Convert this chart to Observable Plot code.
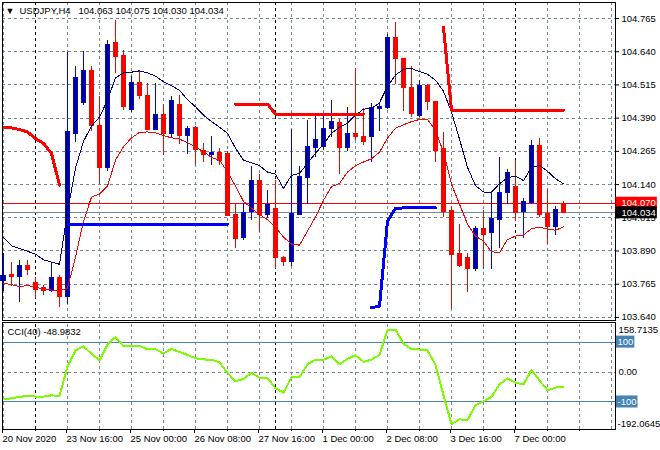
<!DOCTYPE html>
<html>
<head>
<meta charset="utf-8">
<script src="https://cdn.jsdelivr.net/npm/d3@7"></script>
<script src="https://cdn.jsdelivr.net/npm/@observablehq/plot@0.6"></script>
<style>
html,body{margin:0;padding:0;background:#fff;}
#chart{position:relative;width:660px;height:450px;overflow:hidden;background:#fff;}
#chart svg{position:absolute;left:0;}
</style>
</head>
<body>
<div id="chart"></div>
<script>
// ---------- DATA ----------
const symbol = "USDJPY,H4";
const opens = [103.778,103.798,103.793,103.834,103.771,103.751,103.740,103.789,103.715,104.332,
104.448,104.567,104.360,104.204,104.671,104.623,104.422,104.523,104.473,104.345,
104.401,104.332,104.439,104.323,104.353,104.266,104.251,104.257,104.254,104.025,
103.939,104.035,104.153,104.025,104.047,103.864,103.849,104.027,104.165,104.278,
104.282,104.348,104.370,104.276,104.330,104.320,104.320,104.426,104.429,104.692,
104.612,104.505,104.399,104.510,104.451,104.273,104.041,103.878,103.862,103.824,
103.971,103.956,104.006,104.109,104.129,104.035,104.072,104.284,104.031,103.981,
104.063];
const highs = [103.881,103.847,103.855,103.855,103.789,103.761,103.843,103.799,104.636,104.586,
104.642,104.583,104.470,104.683,104.759,104.646,104.545,104.571,104.520,104.520,
104.441,104.470,104.476,104.360,104.360,104.295,104.320,104.276,104.263,104.069,
104.069,104.209,104.179,104.119,104.157,103.868,104.347,104.207,104.382,104.407,
104.407,104.458,104.385,104.430,104.577,104.426,104.445,104.445,104.705,104.749,
104.612,104.583,104.533,104.518,104.451,104.335,104.056,103.991,103.881,103.983,
104.044,104.110,104.241,104.198,104.229,104.088,104.307,104.313,104.121,104.056,
104.075];
const lows = [103.736,103.755,103.695,103.799,103.711,103.724,103.733,103.677,103.690,104.297,
104.438,104.338,104.141,104.188,104.558,104.417,104.411,104.460,104.342,104.342,
104.248,104.313,104.291,104.254,104.213,104.222,104.213,104.213,104.019,103.899,
103.931,104.003,103.958,104.012,103.824,103.833,103.830,104.022,104.065,104.242,
104.267,104.317,104.178,104.263,104.307,104.286,104.222,104.338,104.422,104.517,
104.416,104.392,104.392,104.420,104.222,104.016,103.670,103.827,103.733,103.812,
103.820,103.820,103.899,104.065,104.000,103.937,104.066,104.016,103.914,103.947,
104.030];
const closes = [103.795,103.791,103.833,103.820,103.745,103.740,103.789,103.715,104.336,104.542,
104.567,104.360,104.204,104.667,104.621,104.433,104.523,104.474,104.345,104.401,
104.332,104.454,104.322,104.348,104.269,104.251,104.259,104.229,104.022,103.937,
104.034,104.153,104.025,104.062,103.862,103.849,104.029,104.168,104.282,104.307,
104.348,104.376,104.276,104.330,104.320,104.301,104.429,104.433,104.692,104.614,
104.504,104.407,104.510,104.451,104.267,104.037,103.874,103.833,103.824,103.971,
103.950,104.010,104.110,104.182,104.034,104.076,104.284,104.027,103.981,104.044,
104.034];
// upper (navy) and lower (red) band lines
const upperBand = [103.940,103.910,103.899,103.889,103.878,103.857,103.848,103.840,104.036,104.202,
104.303,104.360,104.394,104.458,104.542,104.560,104.563,104.568,104.560,104.548,
104.527,104.512,104.495,104.459,104.433,104.401,104.377,104.356,104.333,104.277,
104.232,104.222,104.211,104.187,104.179,104.126,104.175,104.182,104.220,104.258,
104.292,104.333,104.356,104.371,104.401,104.424,104.426,104.448,104.510,104.552,
104.574,104.577,104.565,104.555,104.533,104.491,104.412,104.311,104.205,104.136,
104.112,104.112,104.143,104.166,104.172,104.155,104.204,104.213,104.190,104.162,
104.143];
const lowerBand = [103.769,103.763,103.756,103.760,103.755,103.745,103.743,103.740,103.750,103.867,
104.002,104.093,104.104,104.134,104.232,104.283,104.315,104.337,104.338,104.335,
104.324,104.316,104.311,104.298,104.281,104.264,104.242,104.232,104.188,104.134,
104.077,104.051,104.027,104.008,103.980,103.942,103.916,103.912,103.965,104.018,
104.081,104.132,104.144,104.187,104.211,104.225,104.237,104.262,104.315,104.352,
104.365,104.377,104.385,104.386,104.343,104.262,104.141,104.066,103.991,103.946,
103.927,103.887,103.884,103.933,103.946,103.950,103.974,103.980,103.972,103.968,
103.981];
// thick stop lines (null = not drawn)
const redStop = [104.355,104.353,104.347,104.338,104.313,104.295,104.257,104.138,null,null,
null,null,null,null,null,null,null,null,null,null,
null,null,null,null,null,null,null,null,null,104.443,
104.443,104.443,104.443,104.443,104.405,104.405,104.405,104.405,104.405,104.405,
104.405,104.405,104.405,104.405,104.405,104.405,null,null,null,null,
null,null,null,null,null,104.731,104.420,104.420,104.420,104.420,
104.420,104.420,104.420,104.420,104.420,104.420,104.420,104.420,104.420,104.420,
104.420];
const blueStop = [null,null,null,null,null,null,null,null,103.991,103.991,
103.991,103.991,103.991,103.991,103.991,103.991,103.991,103.991,103.991,103.991,
103.991,103.991,103.991,103.991,103.991,103.991,103.991,103.991,103.991,null,
null,null,null,null,null,null,null,null,null,null,
null,null,null,null,null,null,103.677,103.682,104.002,104.051,
104.052,104.052,104.052,104.052,104.052,null,null,null,null,null,
null,null,null,null,null,null,null,null,null,null,
null];
const cciPeriod = 40;
const cci = [-91,-88,-83,-80,-82,-82,-78,-80,18,72,
86,61,39,92,117,86,86,87,76,76,
62,77,67,57,46,42,41,32,-3,-31,
-23,-3,-19,-20,-54,-69,-17,-17,26,41,
41,52,26,44,56,34,41,57,141,142,
94,77,75,72,24,-78,-174,-158,-161,-111,
-98,-83,-41,-21,-36,-41,7,-28,-61,-52,
-48.9832];
const cciLevels = [100, -100];
const cciMax = 158.7135, cciMin = -192.0645;
const ask = 104.070, bid = 104.034;
const priceTicks = [103.640,103.765,103.890,104.015,104.140,104.265,104.390,104.515,104.640,104.765];
const timeLabels = ["20 Nov 2020","23 Nov 16:00","25 Nov 00:00","26 Nov 08:00","27 Nov 16:00","1 Dec 00:00","2 Dec 08:00","3 Dec 16:00","7 Dec 00:00"];
const timeLabelBars = [0,8,16,24,32,40,48,56,64];
const minorTickBars = [4,12,20,28,36,44,52,60,68,72];
const gridBars = [0,4,8,12,16,20,24,28,32,36,40,44,48,52,56,60,64,68,72,76];
const weekSeparators = [4,34,64];

// ---------- CHART ----------
const FONT = "'Liberation Sans', Arial, sans-serif";
const GRID = "#778899";
const xDomain = [-0.125, 76.5];
const idx = opens.map((_, i) => i);
const bars = idx.map(i => ({i, open: opens[i], high: highs[i], low: lows[i], close: closes[i], up: closes[i] >= opens[i]}));
const last = bars[bars.length - 1];
const f3 = d => d.toFixed(3);
const style = {fontFamily: FONT, fontSize: "9.5px", color: "black", background: "white"};
const dash = {stroke: GRID, strokeOpacity: 1, strokeDasharray: "3,3", shapeRendering: "crispEdges"};

const main = Plot.plot({
  width: 660, height: 322, marginLeft: 2, marginRight: 45, marginTop: 2, marginBottom: 2,
  style,
  x: {type: "linear", domain: xDomain, axis: null, label: null},
  y: {domain: [103.6284, 104.8252], label: null},
  marks: [
    Plot.gridY(priceTicks, dash),
    Plot.gridX(gridBars, dash),
    Plot.ruleX(weekSeparators, {stroke: "black", strokeDasharray: "3,3", shapeRendering: "crispEdges"}),
    Plot.ruleY([ask], {stroke: "#FF0000", shapeRendering: "crispEdges"}),
    Plot.ruleY([bid], {stroke: GRID, shapeRendering: "crispEdges"}),
    Plot.ruleX(bars, {x: "i", y1: "low", y2: "high", stroke: d => d.up ? "#0000FF" : "#FF0000", shapeRendering: "crispEdges"}),
    Plot.rect(bars, {x1: d => d.i - 0.25, x2: d => d.i + 0.25, y1: "open", y2: "close",
      fill: d => d.up ? "#00008B" : "#FF0000", stroke: d => d.up ? "#0000FF" : "#FF0000", shapeRendering: "crispEdges"}),
    Plot.line(idx, {x: i => i, y: i => upperBand[i], stroke: "#000080", strokeWidth: 1, shapeRendering: "crispEdges"}),
    Plot.line(idx, {x: i => i, y: i => lowerBand[i], stroke: "#FF0000", strokeWidth: 1, shapeRendering: "crispEdges"}),
    Plot.line(idx, {x: i => i, y: i => redStop[i], stroke: "#FF0000", strokeWidth: 3, shapeRendering: "crispEdges"}),
    Plot.line(idx, {x: i => i, y: i => blueStop[i], stroke: "#0000FF", strokeWidth: 3, shapeRendering: "crispEdges"}),
    Plot.axisY(priceTicks, {anchor: "right", tickSize: 3, tickPadding: 3, tickFormat: f3}),
    Plot.frame({stroke: "black", shapeRendering: "crispEdges"}),
    Plot.text(["\u25BC"], {frameAnchor: "top-left", dx: 3, dy: 8.5, textAnchor: "start", lineAnchor: "middle", fontSize: 9}),
    Plot.text([`${symbol}\u00A0\u00A0\u00A0${f3(last.open)} ${f3(last.high)} ${f3(last.low)} ${f3(last.close)}`],
      {frameAnchor: "top-left", dx: 17, dy: 8.5, textAnchor: "start", lineAnchor: "middle"}),
    Plot.text([ask], {y: d => d, frameAnchor: "right", dx: 6, textAnchor: "start", lineAnchor: "middle", text: f3, fill: "white"}),
    Plot.text([bid], {y: d => d, frameAnchor: "right", dx: 6, textAnchor: "start", lineAnchor: "middle", text: f3, fill: "white"})
  ]
});

const tickLabel = new Map(timeLabelBars.map((b, k) => [b, timeLabels[k]]));
const lower = Plot.plot({
  width: 660, height: 128, marginLeft: 2, marginRight: 45, marginTop: 2, marginBottom: 21,
  style,
  x: {type: "linear", domain: xDomain, label: null},
  y: {domain: [cciMin, cciMax], label: null},
  marks: [
    Plot.gridX(gridBars, dash),
    Plot.ruleY([0], dash),
    Plot.ruleX(weekSeparators, {stroke: "black", strokeDasharray: "3,3", shapeRendering: "crispEdges"}),
    Plot.ruleY(cciLevels, {stroke: "#4682B4", shapeRendering: "crispEdges"}),
    Plot.line(cci, {x: (d, i) => i, y: d => d, stroke: "#7CFC00", strokeWidth: 2, shapeRendering: "crispEdges"}),
    Plot.axisX(minorTickBars, {anchor: "bottom", tickSize: 2, tickFormat: () => ""}),
    Plot.axisX(timeLabelBars, {anchor: "bottom", tickSize: 4, tickPadding: 2, tickFormat: d => tickLabel.get(d), textAnchor: "start", dx: -1}),
    Plot.axisY([0], {anchor: "right", tickSize: 0, tickPadding: 3, tickFormat: d => d.toFixed(2)}),
    Plot.text([cciMax], {y: d => d, frameAnchor: "right", dx: 3, dy: 5, textAnchor: "start", lineAnchor: "middle", text: d => String(d)}),
    Plot.text([cciMin], {y: d => d, frameAnchor: "right", dx: 2, dy: -5.5, textAnchor: "start", lineAnchor: "middle", text: d => String(d)}),
    Plot.text(cciLevels, {y: d => d, frameAnchor: "right", dx: 2, textAnchor: "start", lineAnchor: "middle", text: d => String(d), fill: "white"}),
    Plot.frame({stroke: "black", insetTop: -2, shapeRendering: "crispEdges"}),
    Plot.text([`CCI(${cciPeriod}) ${cci[cci.length - 1]}`], {frameAnchor: "top-left", dx: 5, dy: 7.5, textAnchor: "start", lineAnchor: "middle"})
  ]
});

const wrap = document.getElementById("chart");
main.style.top = "0px";
lower.style.top = "322px";
wrap.appendChild(main);
wrap.appendChild(lower);

// draw coloured boxes behind the white price / level tags
function boxText(svg, label, color, padL, padR) {
  for (const t of svg.querySelectorAll("text")) {
    if (t.textContent.trim() !== label) continue;
    const fill = getComputedStyle(t).fill;
    if (fill !== "rgb(255, 255, 255)" && fill !== "white") continue;
    const bb = t.getBBox();
    const r = document.createElementNS("http://www.w3.org/2000/svg", "rect");
    r.setAttribute("x", bb.x - padL);
    r.setAttribute("y", bb.y - 0.5);
    r.setAttribute("width", bb.width + padL + padR);
    r.setAttribute("height", bb.height + 1);
    r.setAttribute("fill", color);
    r.setAttribute("stroke", "none");
    const tr = t.getAttribute("transform");
    if (tr) r.setAttribute("transform", tr);
    t.parentNode.insertBefore(r, t);
  }
}
boxText(main, f3(ask), "#FF0000", 6, 1);
boxText(main, f3(bid), "#000000", 6, 1);
cciLevels.forEach(v => boxText(lower, String(v), "#4682B4", 2, 1));
</script>
</body>
</html>
